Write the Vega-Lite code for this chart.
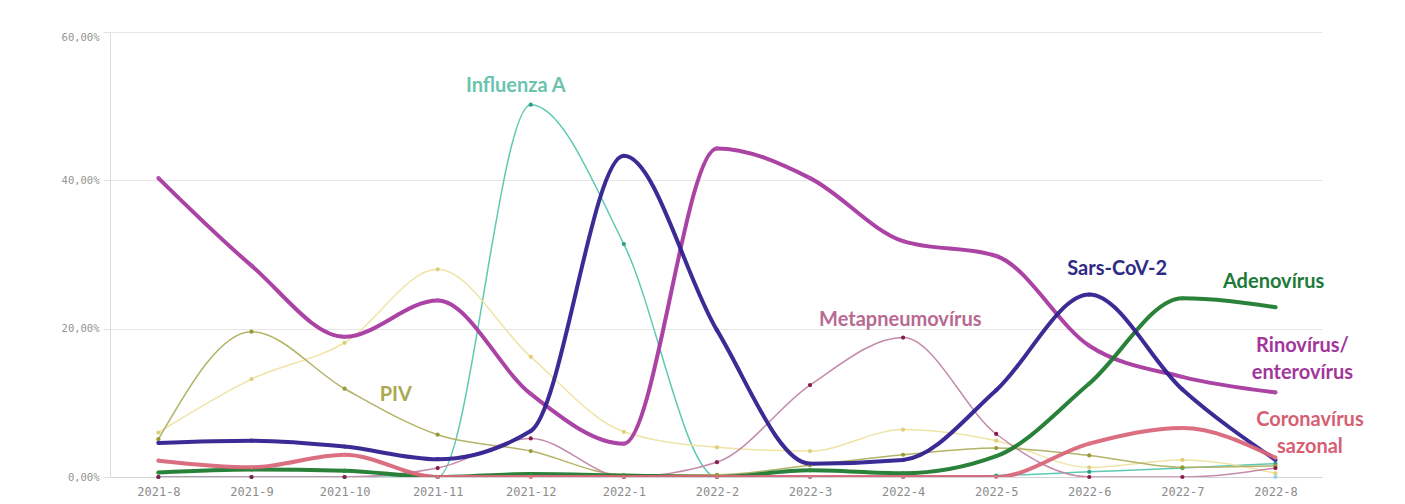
{
  "$schema": "https://vega.github.io/schema/vega-lite/v6.json",
  "width": 1212,
  "height": 445,
  "autosize": {"type": "none"},
  "padding": {"left": 110, "top": 32, "right": 83, "bottom": 27},
  "background": "white",
  "config": {"view": {"stroke": null}},
  "datasets": {
    "v": [
      {"m": "2021-8", "i": 0, "s": "Influenza A", "value": 0},
      {"m": "2021-9", "i": 1, "s": "Influenza A", "value": 0},
      {"m": "2021-10", "i": 2, "s": "Influenza A", "value": 0},
      {"m": "2021-11", "i": 3, "s": "Influenza A", "value": 0},
      {"m": "2021-12", "i": 4, "s": "Influenza A", "value": 50.2},
      {"m": "2022-1", "i": 5, "s": "Influenza A", "value": 31.4},
      {"m": "2022-2", "i": 6, "s": "Influenza A", "value": 0},
      {"m": "2022-3", "i": 7, "s": "Influenza A", "value": 0},
      {"m": "2022-4", "i": 8, "s": "Influenza A", "value": 0},
      {"m": "2022-5", "i": 9, "s": "Influenza A", "value": 0.2},
      {"m": "2022-6", "i": 10, "s": "Influenza A", "value": 0.7},
      {"m": "2022-7", "i": 11, "s": "Influenza A", "value": 1.2},
      {"m": "2022-8", "i": 12, "s": "Influenza A", "value": 1.8},

      {"m": "2021-8", "i": 0, "s": "Outros", "value": 6.0},
      {"m": "2021-9", "i": 1, "s": "Outros", "value": 13.2},
      {"m": "2021-10", "i": 2, "s": "Outros", "value": 18.1},
      {"m": "2021-11", "i": 3, "s": "Outros", "value": 28.0},
      {"m": "2021-12", "i": 4, "s": "Outros", "value": 16.2},
      {"m": "2022-1", "i": 5, "s": "Outros", "value": 6.1},
      {"m": "2022-2", "i": 6, "s": "Outros", "value": 4.0},
      {"m": "2022-3", "i": 7, "s": "Outros", "value": 3.5},
      {"m": "2022-4", "i": 8, "s": "Outros", "value": 6.4},
      {"m": "2022-5", "i": 9, "s": "Outros", "value": 4.9},
      {"m": "2022-6", "i": 10, "s": "Outros", "value": 1.3},
      {"m": "2022-7", "i": 11, "s": "Outros", "value": 2.3},
      {"m": "2022-8", "i": 12, "s": "Outros", "value": 0.5},

      {"m": "2021-8", "i": 0, "s": "PIV", "value": 5.1},
      {"m": "2021-9", "i": 1, "s": "PIV", "value": 19.6},
      {"m": "2021-10", "i": 2, "s": "PIV", "value": 11.9},
      {"m": "2021-11", "i": 3, "s": "PIV", "value": 5.7},
      {"m": "2021-12", "i": 4, "s": "PIV", "value": 3.5},
      {"m": "2022-1", "i": 5, "s": "PIV", "value": 0.3},
      {"m": "2022-2", "i": 6, "s": "PIV", "value": 0.3},
      {"m": "2022-3", "i": 7, "s": "PIV", "value": 1.6},
      {"m": "2022-4", "i": 8, "s": "PIV", "value": 3.0},
      {"m": "2022-5", "i": 9, "s": "PIV", "value": 3.9},
      {"m": "2022-6", "i": 10, "s": "PIV", "value": 2.9},
      {"m": "2022-7", "i": 11, "s": "PIV", "value": 1.3},
      {"m": "2022-8", "i": 12, "s": "PIV", "value": 1.5},

      {"m": "2021-8", "i": 0, "s": "Metapneumovírus", "value": 0},
      {"m": "2021-9", "i": 1, "s": "Metapneumovírus", "value": 0},
      {"m": "2021-10", "i": 2, "s": "Metapneumovírus", "value": 0},
      {"m": "2021-11", "i": 3, "s": "Metapneumovírus", "value": 1.2},
      {"m": "2021-12", "i": 4, "s": "Metapneumovírus", "value": 5.2},
      {"m": "2022-1", "i": 5, "s": "Metapneumovírus", "value": 0},
      {"m": "2022-2", "i": 6, "s": "Metapneumovírus", "value": 2.0},
      {"m": "2022-3", "i": 7, "s": "Metapneumovírus", "value": 12.4},
      {"m": "2022-4", "i": 8, "s": "Metapneumovírus", "value": 18.8},
      {"m": "2022-5", "i": 9, "s": "Metapneumovírus", "value": 5.8},
      {"m": "2022-6", "i": 10, "s": "Metapneumovírus", "value": 0},
      {"m": "2022-7", "i": 11, "s": "Metapneumovírus", "value": 0},
      {"m": "2022-8", "i": 12, "s": "Metapneumovírus", "value": 1.2},

      {"m": "2022-8", "i": 12, "s": "Outros 2", "value": 0},

      {"m": "2021-8", "i": 0, "s": "Rinovírus/enterovírus", "value": 40.3},
      {"m": "2021-9", "i": 1, "s": "Rinovírus/enterovírus", "value": 28.5},
      {"m": "2021-10", "i": 2, "s": "Rinovírus/enterovírus", "value": 18.9},
      {"m": "2021-11", "i": 3, "s": "Rinovírus/enterovírus", "value": 23.8},
      {"m": "2021-12", "i": 4, "s": "Rinovírus/enterovírus", "value": 11.2},
      {"m": "2022-1", "i": 5, "s": "Rinovírus/enterovírus", "value": 4.5},
      {"m": "2022-2", "i": 6, "s": "Rinovírus/enterovírus", "value": 44.3},
      {"m": "2022-3", "i": 7, "s": "Rinovírus/enterovírus", "value": 40.3},
      {"m": "2022-4", "i": 8, "s": "Rinovírus/enterovírus", "value": 31.8},
      {"m": "2022-5", "i": 9, "s": "Rinovírus/enterovírus", "value": 29.8},
      {"m": "2022-6", "i": 10, "s": "Rinovírus/enterovírus", "value": 17.7},
      {"m": "2022-7", "i": 11, "s": "Rinovírus/enterovírus", "value": 13.5},
      {"m": "2022-8", "i": 12, "s": "Rinovírus/enterovírus", "value": 11.4},

      {"m": "2021-8", "i": 0, "s": "Adenovírus", "value": 0.6},
      {"m": "2021-9", "i": 1, "s": "Adenovírus", "value": 1.0},
      {"m": "2021-10", "i": 2, "s": "Adenovírus", "value": 0.85},
      {"m": "2021-11", "i": 3, "s": "Adenovírus", "value": 0},
      {"m": "2021-12", "i": 4, "s": "Adenovírus", "value": 0.4},
      {"m": "2022-1", "i": 5, "s": "Adenovírus", "value": 0.2},
      {"m": "2022-2", "i": 6, "s": "Adenovírus", "value": 0},
      {"m": "2022-3", "i": 7, "s": "Adenovírus", "value": 0.9},
      {"m": "2022-4", "i": 8, "s": "Adenovírus", "value": 0.5},
      {"m": "2022-5", "i": 9, "s": "Adenovírus", "value": 2.8},
      {"m": "2022-6", "i": 10, "s": "Adenovírus", "value": 12.6},
      {"m": "2022-7", "i": 11, "s": "Adenovírus", "value": 24.1},
      {"m": "2022-8", "i": 12, "s": "Adenovírus", "value": 22.9},

      {"m": "2021-8", "i": 0, "s": "Sars-CoV-2", "value": 4.6},
      {"m": "2021-9", "i": 1, "s": "Sars-CoV-2", "value": 4.9},
      {"m": "2021-10", "i": 2, "s": "Sars-CoV-2", "value": 4.1},
      {"m": "2021-11", "i": 3, "s": "Sars-CoV-2", "value": 2.4},
      {"m": "2021-12", "i": 4, "s": "Sars-CoV-2", "value": 6.2},
      {"m": "2022-1", "i": 5, "s": "Sars-CoV-2", "value": 43.3},
      {"m": "2022-2", "i": 6, "s": "Sars-CoV-2", "value": 19.8},
      {"m": "2022-3", "i": 7, "s": "Sars-CoV-2", "value": 1.8},
      {"m": "2022-4", "i": 8, "s": "Sars-CoV-2", "value": 2.3},
      {"m": "2022-5", "i": 9, "s": "Sars-CoV-2", "value": 11.7},
      {"m": "2022-6", "i": 10, "s": "Sars-CoV-2", "value": 24.6},
      {"m": "2022-7", "i": 11, "s": "Sars-CoV-2", "value": 11.8},
      {"m": "2022-8", "i": 12, "s": "Sars-CoV-2", "value": 2.3},

      {"m": "2021-8", "i": 0, "s": "Coronavírus sazonal", "value": 2.2},
      {"m": "2021-9", "i": 1, "s": "Coronavírus sazonal", "value": 1.3},
      {"m": "2021-10", "i": 2, "s": "Coronavírus sazonal", "value": 3.0},
      {"m": "2021-11", "i": 3, "s": "Coronavírus sazonal", "value": 0},
      {"m": "2021-12", "i": 4, "s": "Coronavírus sazonal", "value": 0},
      {"m": "2022-1", "i": 5, "s": "Coronavírus sazonal", "value": 0},
      {"m": "2022-2", "i": 6, "s": "Coronavírus sazonal", "value": 0},
      {"m": "2022-3", "i": 7, "s": "Coronavírus sazonal", "value": 0},
      {"m": "2022-4", "i": 8, "s": "Coronavírus sazonal", "value": 0},
      {"m": "2022-5", "i": 9, "s": "Coronavírus sazonal", "value": 0},
      {"m": "2022-6", "i": 10, "s": "Coronavírus sazonal", "value": 4.5},
      {"m": "2022-7", "i": 11, "s": "Coronavírus sazonal", "value": 6.6},
      {"m": "2022-8", "i": 12, "s": "Coronavírus sazonal", "value": 2.6}
    ],
    "lbl": [
      {"s": "Influenza A", "label": "Influenza A", "i": 3.84, "value": 52.7},
      {"s": "PIV", "label": "PIV", "i": 2.55, "value": 11.1},
      {"s": "Metapneumovírus", "label": "Metapneumovírus", "i": 7.97, "value": 21.2},
      {"s": "Sars-CoV-2", "label": "Sars-CoV-2", "i": 10.3, "value": 28.0},
      {"s": "Adenovírus", "label": "Adenovírus", "i": 11.98, "value": 26.3},
      {"s": "Rinovírus/enterovírus", "label": "Rinovírus/\nenterovírus", "i": 12.29, "value": 17.6},
      {"s": "Coronavírus sazonal", "label": "Coronavírus\nsazonal", "i": 12.37, "value": 7.7}
    ]
  },
  "data": {"name": "v"},
  "encoding": {
    "x": {
      "field": "i",
      "type": "quantitative",
      "scale": {"domain": [-0.52, 12.5], "nice": false, "zero": false},
      "axis": {
        "values": [0, 1, 2, 3, 4, 5, 6, 7, 8, 9, 10, 11, 12],
        "labelExpr": "datum.value < 5 ? '2021-' + (datum.value + 8) : '2022-' + (datum.value - 4)",
        "grid": false,
        "ticks": false,
        "domainColor": "#d4d4d4",
        "labelFont": "DejaVu Sans Mono",
        "labelFontSize": 12,
        "labelColor": "#8c8c8c",
        "labelPadding": 9,
        "title": null
      }
    },
    "y": {
      "field": "value",
      "type": "quantitative",
      "scale": {"domain": [0, 60], "nice": false},
      "axis": {
        "values": [0, 20, 40, 60],
        "labelExpr": "replace(format(datum.value, '.2f'), '.', ',') + '%'",
        "gridColor": "#e6e6e6",
        "domainColor": "#dcdcdc",
        "tickColor": "#e0e0e0",
        "tickSize": 7,
        "labelFont": "DejaVu Sans Mono",
        "labelFontSize": 10.5,
        "labelColor": "#949494",
        "labelPadding": 4,
        "labelBaseline": {"condition": {"test": "datum.value == 60", "value": "top"}, "value": "middle"},
        "title": null
      }
    }
  },
  "layer": [
    {
      "transform": [{"filter": {"field": "s", "oneOf": ["Influenza A", "Outros", "PIV", "Metapneumovírus"]}}],
      "mark": {"type": "line", "interpolate": "monotone", "strokeWidth": 1.5, "clip": true},
      "encoding": {
        "color": {
          "field": "s",
          "type": "nominal",
          "scale": {
            "domain": ["Influenza A", "Outros", "PIV", "Metapneumovírus"],
            "range": ["#5ec9b3", "#efe4a6", "#b3b36a", "#c48bab"]
          },
          "legend": null
        }
      }
    },
    {
      "transform": [{"filter": {"field": "s", "oneOf": ["Rinovírus/enterovírus", "Adenovírus", "Sars-CoV-2", "Coronavírus sazonal"]}}],
      "mark": {"type": "line", "interpolate": "monotone", "strokeWidth": 4, "opacity": 0.95, "clip": true},
      "encoding": {
        "color": {
          "field": "s",
          "type": "nominal",
          "scale": {
            "domain": ["Rinovírus/enterovírus", "Adenovírus", "Sars-CoV-2", "Coronavírus sazonal"],
            "range": ["#a6399f", "#1f7a2f", "#30208f", "#d9667a"]
          },
          "legend": null
        }
      }
    },
    {
      "mark": {"type": "point", "filled": true, "size": 18, "opacity": 1},
      "encoding": {
        "color": {
          "field": "s",
          "type": "nominal",
          "scale": {
            "domain": ["Influenza A", "Outros", "PIV", "Metapneumovírus", "Outros 2", "Rinovírus/enterovírus", "Adenovírus", "Sars-CoV-2", "Coronavírus sazonal"],
            "range": ["#2f9e86", "#e0cf78", "#9b9b35", "#8a1c4c", "#8fd3f0", "#b24cab", "#2a8a3a", "#3a2a9a", "#de7587"]
          },
          "legend": null
        }
      }
    },
    {
      "data": {"name": "lbl"},
      "mark": {"type": "text", "font": "Lato", "fontWeight": "bold", "fontSize": 20, "align": "center", "baseline": "middle", "lineBreak": "\n", "lineHeight": 27},
      "encoding": {
        "text": {"field": "label"},
        "color": {
          "field": "s",
          "type": "nominal",
          "scale": {
            "domain": ["Influenza A", "PIV", "Metapneumovírus", "Sars-CoV-2", "Adenovírus", "Rinovírus/enterovírus", "Coronavírus sazonal"],
            "range": ["#6cc3ad", "#a9a951", "#b86a93", "#2e2a85", "#1d7a38", "#a3369b", "#d65f73"]
          },
          "legend": null
        }
      }
    }
  ],
  "resolve": {"scale": {"color": "independent"}}
}
